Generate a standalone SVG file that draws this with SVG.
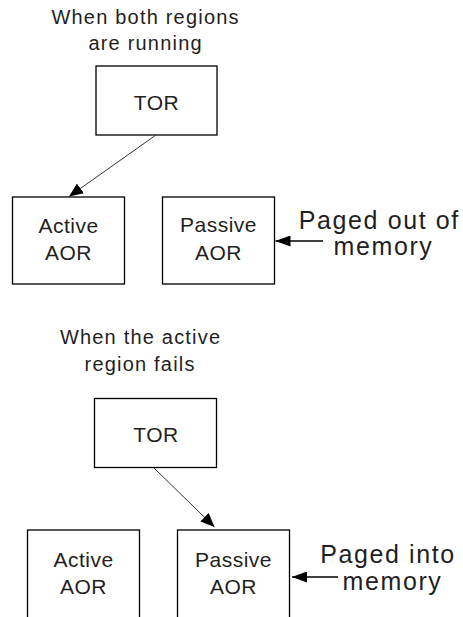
<svg xmlns="http://www.w3.org/2000/svg" width="463" height="617" viewBox="0 0 463 617">
<defs>
<style>
text{font-family:"Liberation Sans",Arial,sans-serif;fill:#1f1f1f;text-anchor:middle}
.title{font-size:20px;letter-spacing:1.2px}
.lbl{font-size:21px;letter-spacing:0.5px}
.note{font-size:25px;letter-spacing:1.6px}
.box{fill:#fff;stroke:#000;stroke-width:1.3}
.thin{stroke:#333;stroke-width:1;fill:none}
.thick{stroke:#000;stroke-width:1.6;fill:none}
</style>
<marker id="ah" viewBox="0 0 14 12" refX="14" refY="6" markerWidth="14" markerHeight="12" markerUnits="userSpaceOnUse" orient="auto">
<path d="M0,0 L14,6 L0,12 Z" fill="#000"/>
</marker>
<marker id="ah2" viewBox="0 0 15 11" refX="15" refY="5.5" markerWidth="15" markerHeight="11" markerUnits="userSpaceOnUse" orient="auto">
<path d="M0,0 L15,5.5 L0,11 Z" fill="#000"/>
</marker>
</defs>
<rect width="463" height="617" fill="#fff"/>

<g id="title-top">
<text class="title" x="145.6" y="24">When both regions</text>
<text class="title" x="145.6" y="49.5">are running</text>
</g>

<g id="tor-top">
<rect class="box" x="96" y="66" width="121" height="69"/>
<text class="lbl" x="156.5" y="110">TOR</text>
</g>
<g id="active-top">
<rect class="box" x="12.5" y="197" width="112" height="87"/>
<text class="lbl" x="68.5" y="233">Active</text>
<text class="lbl" x="68.5" y="260">AOR</text>
</g>
<g id="passive-top">
<rect class="box" x="162.5" y="197" width="112" height="87"/>
<text class="lbl" x="218.5" y="232">Passive</text>
<text class="lbl" x="218.5" y="260">AOR</text>
</g>
<g id="note-top">
<text class="note" x="379.3" y="229">Paged out of</text>
<text class="note" x="383.5" y="255">memory</text>
</g>

<g id="title-bottom">
<text class="title" x="140.6" y="344">When the active</text>
<text class="title" x="140.1" y="370.5">region fails</text>
</g>
<g id="tor-bottom">
<rect class="box" x="94.5" y="398.5" width="122" height="69"/>
<text class="lbl" x="156" y="442">TOR</text>
</g>
<g id="active-bottom">
<rect class="box" x="27.5" y="530" width="112" height="100"/>
<text class="lbl" x="83.5" y="567">Active</text>
<text class="lbl" x="83.5" y="593.5">AOR</text>
</g>
<g id="passive-bottom">
<rect class="box" x="177.5" y="530" width="112" height="100"/>
<text class="lbl" x="233.5" y="567">Passive</text>
<text class="lbl" x="233.5" y="593.5">AOR</text>
</g>
<g id="note-bottom">
<text class="note" x="388" y="563">Paged into</text>
<text class="note" x="392.5" y="590">memory</text>
</g>

<g id="connectors">
<line class="thin" x1="156" y1="135" x2="69" y2="196.5" marker-end="url(#ah)"/>
<line class="thin" x1="153.5" y1="467.5" x2="214.5" y2="527" marker-end="url(#ah)"/>
<line class="thick" x1="323" y1="241" x2="275.5" y2="241" marker-end="url(#ah2)"/>
<line class="thick" x1="338" y1="577" x2="292" y2="577" marker-end="url(#ah2)"/>
</g>
</svg>
